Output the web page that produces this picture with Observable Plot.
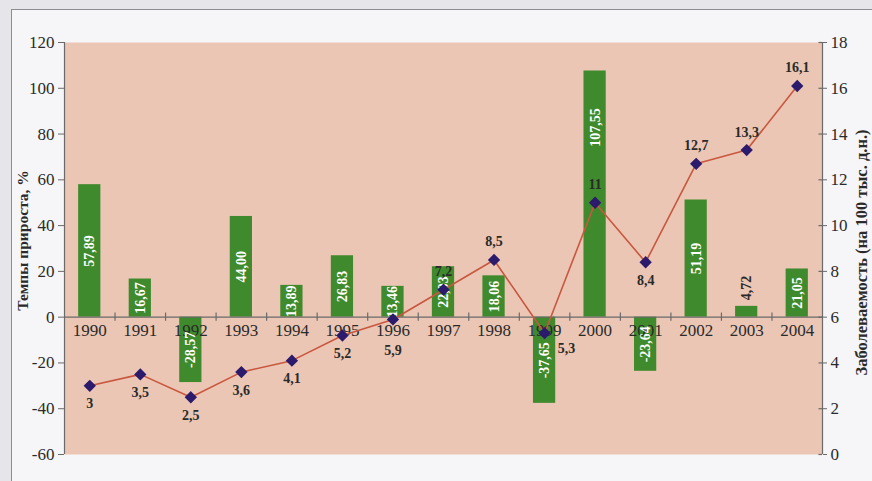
<!DOCTYPE html>
<html>
<head>
<meta charset="utf-8">
<script src="https://cdn.jsdelivr.net/npm/d3@7"></script>
<script src="https://cdn.jsdelivr.net/npm/@observablehq/plot@0.6"></script>
<style>
  html, body { margin: 0; padding: 0; background: #e6e6ea; }
  #wrap { position: relative; width: 872px; height: 481px; overflow: hidden; }
  #box { position: absolute; left: 11px; top: 9px; width: 870px; height: 480px;
         border: 1.5px solid #8c8c92; background: #f6f6f8; }
  #chart { position: absolute; left: 0; top: 0; }
  #chart svg { font-family: "Liberation Serif", "DejaVu Serif", serif; }
</style>
</head>
<body>
<div id="wrap"><div id="box"></div><div id="chart"></div></div>
<script>
const years = [1990, 1991, 1992, 1993, 1994, 1995, 1996, 1997, 1998, 1999, 2000, 2001, 2002, 2003, 2004];
const growth = [57.89, 16.67, -28.57, 44.00, 13.89, 26.83, 13.46, 22.03, 18.06, -37.65, 107.55, -23.64, 51.19, 4.72, 21.05];
const incidence = [3, 3.5, 2.5, 3.6, 4.1, 5.2, 5.9, 7.2, 8.5, 5.3, 11, 8.4, 12.7, 13.3, 16.1];
const leftTicks = [-60, -40, -20, 0, 20, 40, 60, 80, 100, 120];
const rightTicks = [0, 2, 4, 6, 8, 10, 12, 14, 16, 18];
const leftTitle = "Темпы прироста, %";
const rightTitle = "Заболеваемость (на 100 тыс. д.н.)";

// right axis (0..18) mapped onto left scale (-60..120)
const toLeft = v => v * 10 - 60;
const comma = s => s.replace(".", ",").replace("\u2212", "-");

const bars = years.map((y, i) => ({year: y, v: growth[i], label: comma(d3.format(".2f")(growth[i]))}));
const pts = years.map((y, i) => ({year: y, v: incidence[i], yl: toLeft(incidence[i]), label: comma(String(incidence[i]))}));

const aboveYears = new Set([1997, 1998, 2000, 2002, 2003, 2004]);
const rightYears = new Set([1999]);
const lowYears = new Set([1996]);
const side = d => rightYears.has(d.year) ? "right" : aboveYears.has(d.year) ? "above"
  : lowYears.has(d.year) ? "low" : "below";

const pink = "#ebc6b4";
const green = "#3f8a2c";
const lineColor = "#c9573f";
const markerColor = "#2c1a6c";
const axisColor = "#6a6a6a";
const textColor = "#2a2a2a";
const hw = 0.22;

const insideBars = bars.filter(d => Math.abs(d.v) >= 10);
const outsideBars = bars.filter(d => Math.abs(d.v) < 10);
const lbl = {fontSize: 14, fontWeight: "bold", fill: textColor, x: "year", y: "yl", text: "label"};

const chart = Plot.plot({
  width: 872,
  height: 481,
  marginLeft: 64,
  marginRight: 50,
  marginTop: 42,
  marginBottom: 27,
  style: {background: "transparent", fontFamily: "Liberation Serif, DejaVu Serif, serif"},
  x: {type: "linear", domain: [1989.5, 2004.5], axis: null},
  y: {domain: [-60, 120], axis: null},
  marks: [
    Plot.frame({fill: pink, stroke: null}),
    Plot.rectY(bars, {x1: d => d.year - hw, x2: d => d.year + hw, y: "v", fill: green}),
    Plot.ruleY([0], {stroke: axisColor, strokeWidth: 1.2}),
    Plot.ruleX(years.slice(0, -1).map(y => y + 0.5), {y1: -1.8, y2: 1.8, stroke: axisColor, strokeWidth: 1.2}),
    Plot.ruleX([1989.5], {y1: -60, y2: 120, stroke: axisColor, strokeWidth: 1.2}),
    Plot.ruleX([2004.5], {y1: -60, y2: 120, stroke: axisColor, strokeWidth: 1.2}),
    Plot.axisY({anchor: "left", ticks: leftTicks, tickFormat: d => String(d), tickSize: 6, tickPadding: 4,
      fontSize: 17, color: textColor, stroke: axisColor, label: null}),
    Plot.axisY({anchor: "right", ticks: rightTicks.map(toLeft), tickFormat: d => String(Math.round((d + 60) / 10)),
      tickSize: 4, tickPadding: 4, fontSize: 17, color: textColor, stroke: axisColor, label: null}),
    Plot.ruleY(rightTicks.map(toLeft), {x1: 2004.5 - 0.07, x2: 2004.5, stroke: axisColor, strokeWidth: 1.2}),
    Plot.text(years, {x: d => d, y: 0, dy: 13, text: d => String(d), fontSize: 17, fill: textColor}),
    Plot.text(insideBars, {x: "year", y: d => d.v > 100 ? d.v * 0.77 : d.v / 2, text: "label", rotate: -90,
      fill: "white", fontSize: 14, fontWeight: "bold"}),
    Plot.text(outsideBars, {x: "year", y: "v", dy: -6, text: "label", rotate: -90, textAnchor: "start",
      fill: textColor, fontSize: 14, fontWeight: "bold"}),
    Plot.line(pts, {x: "year", y: "yl", stroke: lineColor, strokeWidth: 1.6}),
    Plot.dot(pts, {x: "year", y: "yl", symbol: "diamond2", r: 4.6, fill: markerColor, stroke: markerColor}),
    Plot.text(pts.filter(d => side(d) === "above"), {...lbl, dy: -18}),
    Plot.text(pts.filter(d => side(d) === "below"), {...lbl, dy: 18}),
    Plot.text(pts.filter(d => side(d) === "low"), {...lbl, dy: 31}),
    Plot.text(pts.filter(d => side(d) === "right"), {...lbl, dx: 22, dy: 15}),
    Plot.text([leftTitle], {frameAnchor: "left", textAnchor: "middle", dx: -41, dy: -8, rotate: -90, text: d => d,
      fontSize: 15.5, fontWeight: "bold", fill: textColor}),
    Plot.text([rightTitle], {frameAnchor: "right", textAnchor: "middle", dx: 39, dy: 4, rotate: -90, text: d => d,
      fontSize: 16.5, fontWeight: "bold", fill: textColor})
  ]
});
document.getElementById("chart").appendChild(chart);
</script>
</body>
</html>
